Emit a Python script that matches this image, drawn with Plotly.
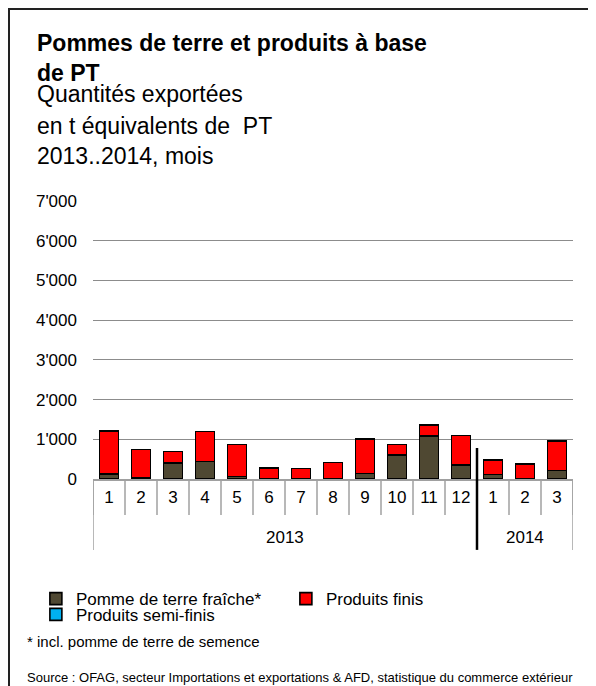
import plotly.graph_objects as go

# Monthly exports, t PT equivalents
years = ['2013'] * 12 + ['2014'] * 3
months = ['1', '2', '3', '4', '5', '6', '7', '8', '9', '10', '11', '12', '1', '2', '3']
fresh = [130, 20, 405, 440, 60, 15, 5, 5, 140, 600, 1085, 355, 110, 10, 210]
finished = [1080, 725, 290, 755, 810, 265, 255, 410, 865, 265, 270, 745, 375, 370, 745]
semi = [0, 0, 0, 0, 0, 0, 0, 0, 0, 0, 0, 0, 0, 0, 0]

FONT = 'Liberation Sans, Arial, sans-serif'
idx = list(range(len(months)))

fig = go.Figure()
fig.add_trace(go.Bar(x=idx, y=fresh, name='Pomme de terre fraîche*', marker_color='#4F4832',
                     marker_line=dict(color='black', width=1.6), legend='legend'))
fig.add_trace(go.Bar(x=idx, y=finished, name='Produits finis', marker_color='#FF0000',
                     marker_line=dict(color='black', width=1.6), legend='legend'))
fig.add_trace(go.Bar(x=idx, y=semi, name='Produits semi-finis', marker_color='#00B0F0',
                     marker_line=dict(color='black', width=1.6), legend='legend2'))

# title block
title_lines = [
    ('<b>Pommes de terre et produits à base</b>', 1.568),
    ('<b>de PT</b>', 1.459),
    ('Quantités exportées', 1.385),
    ('en t équivalents de  PT', 1.270),
    ('2013..2014, mois', 1.162),
]
for txt, yy in title_lines:
    fig.add_annotation(text=txt, xref='paper', yref='paper', x=-0.121, y=yy,
                       xanchor='left', yanchor='middle', showarrow=False,
                       font=dict(size=23, color='black', family=FONT))

fig.add_annotation(text='* incl. pomme de terre de semence', xref='paper', yref='paper',
                   x=-0.142, y=-0.583, xanchor='left', yanchor='middle', showarrow=False,
                   font=dict(size=15, color='black', family=FONT))
fig.add_annotation(text='Source : OFAG, secteur Importations et exportations & AFD, statistique du commerce extérieur',
                   xref='paper', yref='paper', x=-0.142, y=-0.715, xanchor='left', yanchor='middle',
                   showarrow=False, font=dict(size=13, color='black', family=FONT))

# month separators below the axis
for i in range(len(months) + 1):
    fig.add_shape(type='line', xref='x', yref='paper', x0=i - 0.5, x1=i - 0.5, y0=0, y1=-0.1295,
                  line=dict(color='#A0A0A0', width=1.5))

# year labels and dividers
year_list = list(dict.fromkeys(years))
for k, yr in enumerate(year_list):
    pos = [i for i, v in enumerate(years) if v == yr]
    fig.add_annotation(text=yr, xref='x', yref='paper', x=sum(pos) / len(pos), y=-0.209,
                       yanchor='middle', showarrow=False, font=dict(size=17, color='black', family=FONT))
    if k == 0:
        fig.add_shape(type='line', xref='x', yref='paper', x0=pos[0] - 0.5, x1=pos[0] - 0.5,
                      y0=0, y1=-0.255, line=dict(color='#A0A0A0', width=1.5))
    last = k == len(year_list) - 1
    fig.add_shape(type='line', xref='x', yref='paper', x0=pos[-1] + 0.5, x1=pos[-1] + 0.5,
                  y0=0 if last else 0.1115, y1=-0.255,
                  line=dict(color='#A0A0A0' if last else 'black', width=1.5 if last else 2.5))

# outer frame (only top and left edges visible)
fig.add_shape(type='rect', xref='paper', yref='paper', x0=-0.175, x1=2, y0=-2, y1=1.691,
              line=dict(color='#222', width=2), fillcolor='rgba(0,0,0,0)')

fig.update_layout(
    width=596, height=686,
    margin=dict(l=85, r=31, t=193, b=215),
    paper_bgcolor='white', plot_bgcolor='white',
    barmode='stack', bargap=0.41,
    separators=".'",
    font=dict(family=FONT, size=17, color='black'),
    showlegend=True,
    legend=dict(orientation='h', x=-0.119, y=-0.367, xanchor='left', yanchor='top',
                entrywidth=205, entrywidthmode='pixels', font=dict(size=17),
                traceorder='normal', bgcolor='rgba(0,0,0,0)'),
    legend2=dict(orientation='h', x=-0.119, y=-0.424, xanchor='left', yanchor='top',
                 font=dict(size=17), bgcolor='rgba(0,0,0,0)'),
    xaxis=dict(range=[-0.5, len(months) - 0.5], tickvals=idx, ticktext=months, ticks='',
               showline=True, linecolor='#A0A0A0', linewidth=1.5, showgrid=False,
               zeroline=False, ticklabelstandoff=2, tickfont=dict(size=17)),
    yaxis=dict(range=[0, 7000], dtick=1000, tickformat=',d', showgrid=True,
               gridcolor='#8C8C8C', gridwidth=1.3, zeroline=False, showline=False,
               ticks='', ticklabelstandoff=15, tickfont=dict(size=17)),
)

fig.write_html('out.html')
